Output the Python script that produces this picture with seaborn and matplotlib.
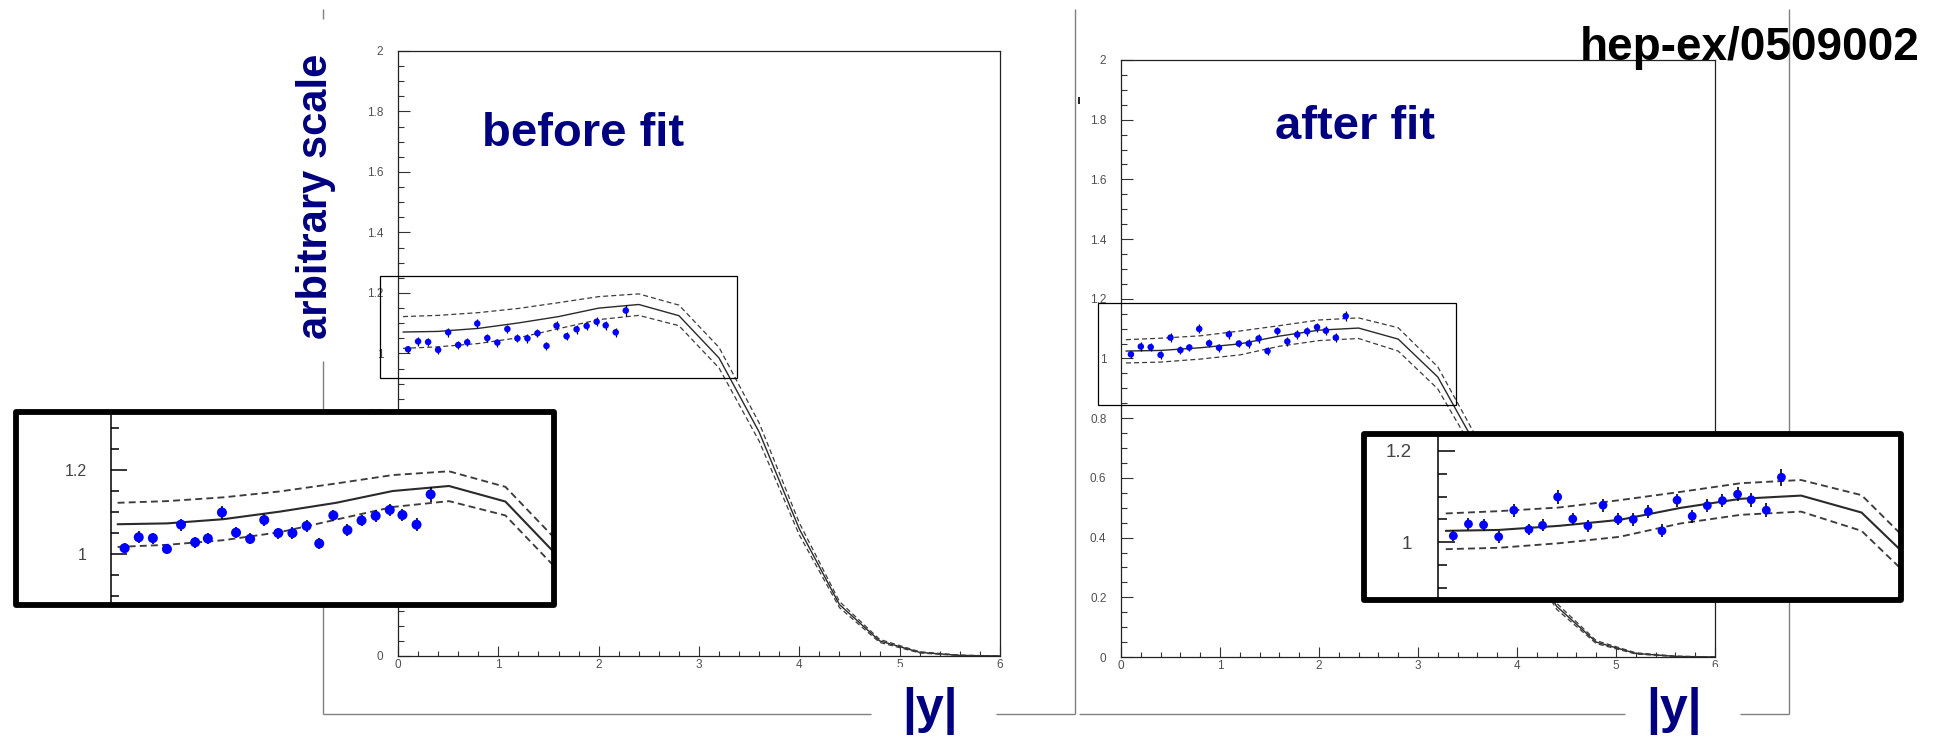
import numpy as np
import matplotlib
matplotlib.use("Agg")
import matplotlib.pyplot as plt
from matplotlib.patches import Rectangle
from matplotlib.lines import Line2D
from matplotlib.ticker import MultipleLocator, FuncFormatter
import seaborn as sns

# ---------------------------------------------------------------- data
# rapidity bins of the measured points
data_x = [0.10, 0.20, 0.30, 0.40, 0.50, 0.60, 0.69, 0.79, 0.89, 0.99, 1.09, 1.19,
          1.29, 1.39, 1.48, 1.58, 1.68, 1.78, 1.88, 1.98, 2.07, 2.17, 2.27]
data_y = [1.014, 1.040, 1.038, 1.012, 1.070, 1.028, 1.037, 1.099, 1.051, 1.036, 1.081, 1.050,
          1.050, 1.067, 1.025, 1.092, 1.057, 1.080, 1.091, 1.105, 1.093, 1.070, 1.142]
data_err = [0.012, 0.014, 0.013, 0.013, 0.014, 0.013, 0.013, 0.015, 0.013, 0.013, 0.014, 0.013,
            0.014, 0.014, 0.014, 0.014, 0.014, 0.014, 0.014, 0.015, 0.015, 0.015, 0.018]

# prediction nodes
theory_x = [0.05, 0.4, 0.8, 1.2, 1.6, 2.0, 2.4, 2.8, 3.2, 3.6, 4.0, 4.4, 4.8, 5.2, 5.6, 6.0]

before_central = [1.071, 1.073, 1.083, 1.101, 1.122, 1.150, 1.162, 1.125, 0.985, 0.74, 0.42, 0.17, 0.050, 0.012, 0.002, 0.0]
before_upper   = [1.122, 1.126, 1.135, 1.149, 1.168, 1.188, 1.197, 1.160, 1.020, 0.77, 0.44, 0.18, 0.055, 0.014, 0.003, 0.0]
before_lower   = [1.017, 1.022, 1.033, 1.052, 1.082, 1.112, 1.126, 1.092, 0.952, 0.71, 0.40, 0.16, 0.045, 0.010, 0.0015, 0.0]

after_central = [1.025, 1.027, 1.036, 1.049, 1.075, 1.095, 1.102, 1.065, 0.938, 0.70, 0.40, 0.17, 0.050, 0.012, 0.002, 0.0]
after_upper   = [1.063, 1.068, 1.076, 1.092, 1.110, 1.129, 1.136, 1.103, 0.972, 0.73, 0.42, 0.18, 0.055, 0.014, 0.003, 0.0]
after_lower   = [0.985, 0.988, 0.998, 1.012, 1.041, 1.060, 1.067, 1.025, 0.898, 0.67, 0.38, 0.16, 0.045, 0.010, 0.0015, 0.0]

x_ticks = [0, 1, 2, 3, 4, 5, 6]

# ---------------------------------------------------------------- style
W, H, DPI = 1952, 737, 100
NAVY = "#000080"
TICK_GRAY = "#505050"
FRAME_GRAY = "#808080"

sns.set_style("white")
plt.rcParams["font.family"] = ["Liberation Sans", "DejaVu Sans"]
plt.rcParams["lines.scale_dashes"] = False

fig = plt.figure(figsize=(W / DPI, H / DPI), dpi=DPI)
fig.patch.set_facecolor("white")


def fx(x):
    return x / W


def fy(y):
    return 1 - y / H


def rect(x0, y0, x1, y1):
    """pixel box measured from the top-left corner -> figure fraction rect"""
    return [x0 / W, 1 - y1 / H, (x1 - x0) / W, (y1 - y0) / H]


def seg(x0, y0, x1, y1, color=FRAME_GRAY, lw=1.0, z=-1):
    fig.add_artist(Line2D([fx(x0), fx(x1)], [fy(y0), fy(y1)], transform=fig.transFigure,
                          color=color, lw=lw, zorder=z, solid_capstyle="butt"))


def draw_curves(ax, central, upper, lower, lw, dash):
    sns.lineplot(x=theory_x, y=central, ax=ax, color="#2a2a2a", lw=lw,
                 estimator=None, sort=False, zorder=2)
    for band in (upper, lower):
        sns.lineplot(x=theory_x, y=band, ax=ax, color="#3c3c3c", lw=lw * 0.9,
                     estimator=None, sort=False, zorder=2)
        ax.lines[-1].set_dashes(dash)


def draw_points(ax, size, elw):
    ax.errorbar(data_x, data_y, yerr=data_err, fmt="none", ecolor="black",
                elinewidth=elw, capsize=0, zorder=3)
    sns.scatterplot(x=data_x, y=data_y, ax=ax, s=size, color="#0000ff",
                    edgecolor="none", zorder=4, legend=False)


fmt = FuncFormatter(lambda v, p: f"{v:g}")


def main_panel(box_px, central, upper, lower, zoom_box):
    ax = fig.add_axes(rect(*box_px))
    ax.set_facecolor("white")
    draw_curves(ax, central, upper, lower, lw=1.0, dash=(3.6, 2.2))
    draw_points(ax, size=22, elw=0.9)
    ax.set_xlim(0, 6)
    ax.set_ylim(0, 2)
    ax.set_xticks(x_ticks)
    ax.xaxis.set_minor_locator(MultipleLocator(0.2))
    ax.yaxis.set_major_locator(MultipleLocator(0.2))
    ax.yaxis.set_minor_locator(MultipleLocator(0.05))
    ax.xaxis.set_major_formatter(fmt)
    ax.yaxis.set_major_formatter(fmt)
    ax.tick_params(which="both", direction="in", left=True, bottom=True, top=False,
                   right=False, color="#333333", width=0.8, labelcolor=TICK_GRAY,
                   labelsize=8.5)
    ax.tick_params(axis="y", which="major", length=8.5, pad=10.5)
    ax.tick_params(axis="y", which="minor", length=4.2)
    ax.tick_params(axis="x", which="major", length=7, pad=2.5)
    ax.tick_params(axis="x", which="minor", length=3.5)
    for s in ax.spines.values():
        s.set_color("#222222")
        s.set_linewidth(0.9)
    ax.set_xlabel("")
    ax.set_ylabel("")
    (x0, x1), (y0, y1) = zoom_box
    ax.add_patch(Rectangle((x0, y0), x1 - x0, y1 - y0, fill=False, ec="black",
                           lw=0.9, clip_on=False, zorder=5))
    return ax


def inset_panel(box_px, xlim, ylim, central, upper, lower, labelsize, pad,
                major_len, minor_len, msize):
    ax = fig.add_axes(rect(*box_px))
    ax.set_zorder(5)
    ax.set_facecolor("white")
    draw_curves(ax, central, upper, lower, lw=1.5, dash=(5, 3))
    draw_points(ax, size=msize, elw=1.2)
    ax.set_xlim(*xlim)
    ax.set_ylim(*ylim)
    for s in ("top", "right", "bottom"):
        ax.spines[s].set_visible(False)
    ax.spines["left"].set_position(("data", 0))
    ax.spines["left"].set_linewidth(1.1)
    ax.spines["left"].set_color("black")
    ax.set_xticks([])
    ax.yaxis.set_major_locator(MultipleLocator(0.2))
    ax.yaxis.set_minor_locator(MultipleLocator(0.05))
    ax.yaxis.set_major_formatter(fmt)
    ax.tick_params(axis="y", which="both", direction="in", left=True, right=False,
                   color="black", width=1.1, labelcolor="#444444",
                   labelsize=labelsize, pad=pad)
    ax.tick_params(axis="y", which="major", length=major_len)
    ax.tick_params(axis="y", which="minor", length=minor_len)
    ax.set_xlabel("")
    ax.set_ylabel("")
    ax.add_patch(Rectangle((0, 0), 1, 1, transform=ax.transAxes, fill=False, ec="black",
                           lw=4.2, joinstyle="round", clip_on=False, zorder=10))
    return ax


# ---------------------------------------------------------------- outer frames
seg(323, 9, 323, 19)
seg(323, 361, 323, 714)
seg(323, 714, 871, 714)
seg(996, 714, 1075, 714)
seg(1075, 9, 1075, 714)
seg(1079, 714, 1625, 714)
seg(1740, 714, 1789, 714)
seg(1789, 9, 1789, 714)
seg(1079, 97, 1079, 104, color="black", lw=1.2)

# ---------------------------------------------------------------- panels
axL = main_panel((398, 51, 1000, 656), before_central, before_upper, before_lower,
                 ((-0.18, 3.376), (0.918, 1.256)))
axR = main_panel((1121, 60, 1715, 657), after_central, after_upper, after_lower,
                 ((-0.23, 3.38), (0.844, 1.187)))

inset_panel((15.5, 412.2, 553.6, 604.5), (-0.674, 3.142), (0.880, 1.3376),
            before_central, before_upper, before_lower,
            labelsize=11.5, pad=17, major_len=11.5, minor_len=5.8, msize=52)
inset_panel((1364, 434, 1901, 600), (-0.491, 3.061), (0.874, 1.2365),
            after_central, after_upper, after_lower,
            labelsize=13.5, pad=19, major_len=11.9, minor_len=6.3, msize=40)

# partially hidden tick labels at the lower edge of the plots
for x0 in (891, 1706):
    fig.add_artist(Rectangle((fx(x0), fy(676)), 18 / W, 9 / H, transform=fig.transFigure,
                             fc="white", ec="none", zorder=4))

# ---------------------------------------------------------------- text
bold = dict(weight="bold", family=["Liberation Sans", "DejaVu Sans"])
fig.text(fx(482), fy(146), "before fit", color=NAVY, fontsize=34, va="baseline",
         ha="left", zorder=6, **bold)
fig.text(fx(1275), fy(139), "after fit", color=NAVY, fontsize=34, va="baseline",
         ha="left", zorder=6, **bold)
fig.text(fx(316), fy(196), "arbitrary scale", color=NAVY, fontsize=30, rotation=90,
         va="center", ha="center", zorder=6, **bold)
fig.text(fx(930), fy(723), "|y|", color=NAVY, fontsize=36, va="baseline",
         ha="center", zorder=6, **bold)
fig.text(fx(1674), fy(723), "|y|", color=NAVY, fontsize=36, va="baseline",
         ha="center", zorder=6, **bold)
fig.text(fx(1580), fy(60), "hep-ex/0509002", color="black", fontsize=33, va="baseline",
         ha="left", zorder=20, **bold)

fig.savefig("out.png", dpi=DPI, facecolor="white")
